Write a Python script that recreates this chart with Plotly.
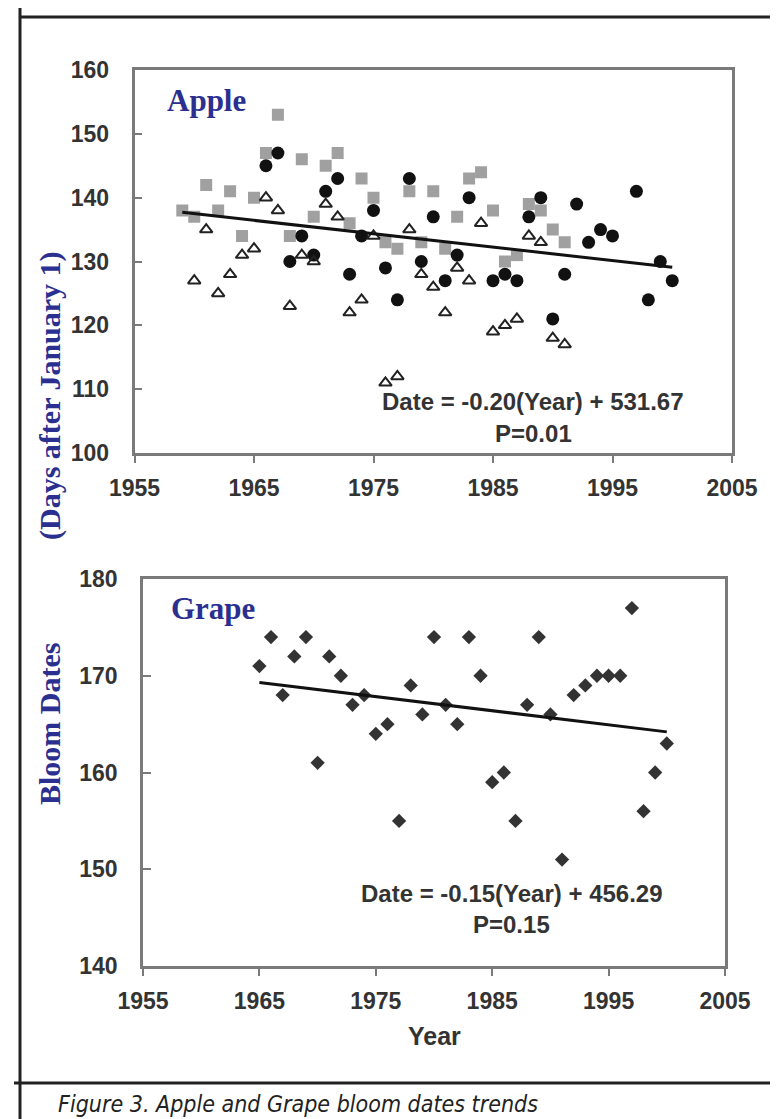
import plotly.graph_objects as go

W, H = 778, 1119

# ---------------- data ----------------
sq_years = [1959, 1960, 1961, 1962, 1963, 1964, 1965, 1966, 1967, 1968, 1969, 1970, 1971, 1972,
            1973, 1974, 1975, 1976, 1977, 1978, 1979, 1980, 1981, 1982, 1983, 1984, 1985, 1986,
            1987, 1988, 1989, 1990, 1991]
sq_vals = [138, 137, 142, 138, 141, 134, 140, 147, 153, 134, 146, 137, 145, 147,
           136, 143, 140, 133, 132, 141, 133, 141, 132, 137, 143, 144, 138, 130,
           131, 139, 138, 135, 133]

ci_years = [1966, 1967, 1968, 1969, 1970, 1971, 1972, 1973, 1974, 1975, 1976, 1977, 1978, 1979,
            1980, 1981, 1982, 1983, 1985, 1986, 1987, 1988, 1989, 1990, 1991, 1992, 1993, 1994,
            1995, 1997, 1998, 1999, 2000]
ci_vals = [145, 147, 130, 134, 131, 141, 143, 128, 134, 138, 129, 124, 143, 130,
           137, 127, 131, 140, 127, 128, 127, 137, 140, 121, 128, 139, 133, 135,
           134, 141, 124, 130, 127]

tr_years = [1960, 1961, 1962, 1963, 1964, 1965, 1966, 1967, 1968, 1969, 1970, 1971, 1972, 1973,
            1974, 1975, 1976, 1977, 1978, 1979, 1980, 1981, 1982, 1983, 1984, 1985, 1986, 1987,
            1988, 1989, 1990, 1991]
tr_vals = [127, 135, 125, 128, 131, 132, 140, 138, 123, 131, 130, 139, 137, 122,
           124, 134, 111, 112, 135, 128, 126, 122, 129, 127, 136, 119, 120, 121,
           134, 133, 118, 117]

apple_trend_years = [1959, 2000]
apple_trend_vals = [137.7, 129.1]

grape_years = list(range(1965, 2001))
grape_vals = [171, 174, 168, 172, 174, 161, 172, 170, 167, 168, 164, 165, 155, 169,
              166, 174, 167, 165, 174, 170, 159, 160, 155, 167, 174, 166, 151, 168,
              169, 170, 170, 170, 177, 156, 160, 163]

grape_trend_years = [1965, 2000]
grape_trend_vals = [169.3, 164.2]

x_ticks = [1955, 1965, 1975, 1985, 1995, 2005]
apple_y_ticks = [100, 110, 120, 130, 140, 150, 160]
grape_y_ticks = [140, 150, 160, 170, 180]

# ---------------- helpers ----------------
def px_x(p):
    return p / W

def px_y(p):
    return 1 - p / H

NAVY = "#2B3090"
TXT = "#333333"
FRAME = "#7a7a7a"
SANS = "Liberation Sans, Arial, sans-serif"
SERIF = "Liberation Serif, Times New Roman, serif"

fig = go.Figure()

# Apple
fig.add_trace(go.Scatter(x=sq_years, y=sq_vals, mode="markers", xaxis="x", yaxis="y",
                         marker=dict(symbol="square", size=12, color="#a0a0a0"), showlegend=False))
fig.add_trace(go.Scatter(x=ci_years, y=ci_vals, mode="markers", xaxis="x", yaxis="y",
                         marker=dict(symbol="circle", size=13, color="#111111"), showlegend=False))
fig.add_trace(go.Scatter(x=tr_years, y=tr_vals, mode="markers", xaxis="x", yaxis="y",
                         marker=dict(symbol="triangle-up-open", size=11, color="#222222",
                                     line=dict(width=2, color="#222222")), showlegend=False))
fig.add_trace(go.Scatter(x=apple_trend_years, y=apple_trend_vals, mode="lines", xaxis="x", yaxis="y",
                         line=dict(color="#111111", width=3), showlegend=False))

# Grape
fig.add_trace(go.Scatter(x=grape_years, y=grape_vals, mode="markers", xaxis="x2", yaxis="y2",
                         marker=dict(symbol="diamond", size=11, color="#333333"), showlegend=False))
fig.add_trace(go.Scatter(x=grape_trend_years, y=grape_trend_vals, mode="lines", xaxis="x2", yaxis="y2",
                         line=dict(color="#111111", width=3), showlegend=False))

tickfont = dict(family=SANS, size=23, color=TXT, weight="bold")

def xaxis_cfg(domain, anchor):
    return dict(domain=domain, anchor=anchor, range=[1955, 2005], tickvals=x_ticks,
                ticktext=[str(v) for v in x_ticks], showgrid=False, zeroline=False,
                showline=True, linecolor=FRAME, linewidth=2.5, mirror=True,
                ticks="outside", ticklen=7, tickcolor=FRAME, tickwidth=1.5,
                tickfont=tickfont, ticklabelstandoff=6, automargin=False)

def yaxis_cfg(domain, anchor, rng, vals):
    return dict(domain=domain, anchor=anchor, range=rng, tickvals=vals,
                ticktext=[str(v) for v in vals], showgrid=False, zeroline=False,
                showline=True, linecolor=FRAME, linewidth=2.5, mirror=True,
                ticks="inside", ticklen=8, tickcolor=FRAME, tickwidth=1.5,
                tickfont=tickfont, ticklabelstandoff=18, automargin=False)

fig.update_layout(
    width=W, height=H,
    margin=dict(l=0, r=0, t=0, b=0),
    paper_bgcolor="white", plot_bgcolor="white",
    xaxis=xaxis_cfg([px_x(126.5), px_x(724)], "y"),
    yaxis=yaxis_cfg([px_y(445), px_y(62)], "x", [100, 160], apple_y_ticks),
    xaxis2=xaxis_cfg([px_x(135), px_x(717)], "y2"),
    yaxis2=yaxis_cfg([px_y(958), px_y(571)], "x2", [140, 180], grape_y_ticks),
)

ann = []
def text(x, y, s, size, family=SANS, color=TXT, weight="bold", angle=0, xanchor="center", style="normal"):
    ann.append(dict(x=px_x(x), y=px_y(y), xref="paper", yref="paper", text=s, showarrow=False,
                    xanchor=xanchor, yanchor="middle", textangle=angle,
                    font=dict(family=family, size=size, color=color, weight=weight, style=style)))

text(198, 92, "Apple", 31, family=SERIF, color=NAVY)
text(205, 600, "Grape", 31, family=SERIF, color=NAVY)
text(525, 393, "Date = -0.20(Year) + 531.67", 24)
text(525, 425, "P=0.01", 24)
text(504, 885, "Date = -0.15(Year) + 456.29", 24)
text(504, 916, "P=0.15", 24)
text(426, 1028, "Year", 25)
text(42, 388, "(Days after January 1)", 30, family=SERIF, color=NAVY, angle=-90)
text(42, 716, "Bloom Dates", 30, family=SERIF, color=NAVY, angle=-90)
text(48, 1096, "Figure 3. Apple and Grape bloom dates trends", 23,
     family="Liberation Sans Narrow, Arial Narrow, DejaVu Sans Condensed, Roboto, sans-serif",
     color="#222222", weight="normal", xanchor="left", style="italic")
fig.update_layout(annotations=ann)

# figure border lines
line = dict(color="#222222", width=3)
fig.add_shape(type="line", xref="paper", yref="paper", x0=px_x(12), x1=1, y0=px_y(9), y1=px_y(9), line=line)
fig.add_shape(type="line", xref="paper", yref="paper", x0=px_x(12), x1=px_x(12), y0=px_y(0), y1=px_y(1119), line=line)
fig.add_shape(type="line", xref="paper", yref="paper", x0=px_x(6), x1=1, y0=px_y(1075), y1=px_y(1075), line=line)

fig.write_html("out.html")
